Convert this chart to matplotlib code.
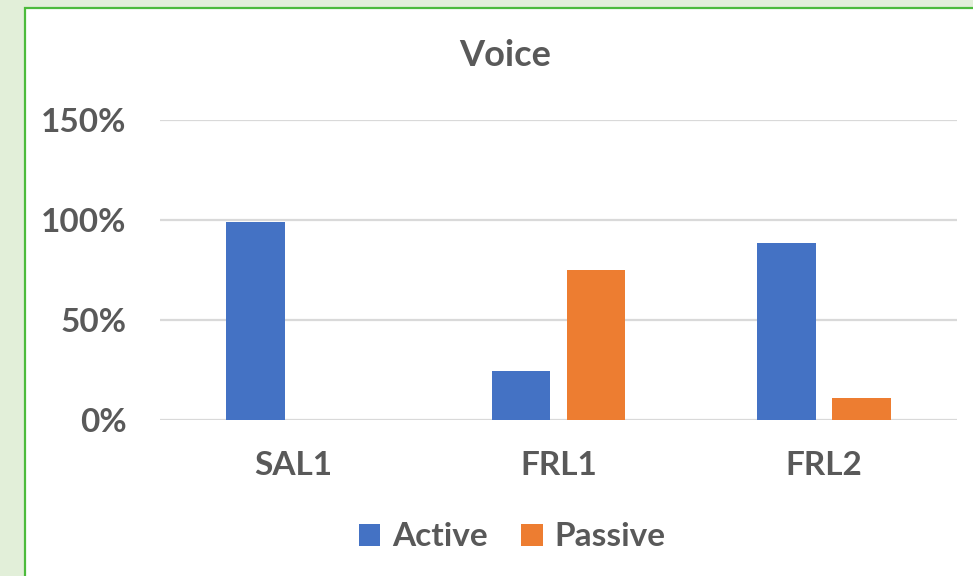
import matplotlib
matplotlib.use("Agg")
import numpy as np
import matplotlib.pyplot as plt
from matplotlib.patches import Rectangle

# chart data
categories = ["SAL1", "FRL1", "FRL2"]
active = [0.99, 0.245, 0.885]
passive = [0.0, 0.75, 0.11]
yticks = [0.0, 0.5, 1.0, 1.5]
ytick_labels = ["0%", "50%", "100%", "150%"]

TEXT = "#595959"
BLUE = "#4472c4"
ORANGE = "#ed7d31"

plt.rcParams["font.family"] = ["Lato", "DejaVu Sans"]
plt.rcParams["font.weight"] = "bold"

W, H = 973, 576
fig = plt.figure(figsize=(W / 100, H / 100), dpi=100, facecolor="#e2efd9")

# white chart card with green border (pixel coords), kept behind the axes
card = Rectangle((25, -5), W, H - 8 + 5, transform=None, zorder=-5,
                 facecolor="white", edgecolor="#4cbb3c", linewidth=1.6)
fig.patches.append(card)

ax = fig.add_axes([160 / W, 156 / H, (957 - 160) / W, 300 / H])
ax.set_facecolor("none")

x = np.arange(len(categories))
bw = 0.22
off = 0.141
b1 = ax.bar(x - off, active, bw, color=BLUE, label="Active", zorder=3)
b2 = ax.bar(x + off, passive, bw, color=ORANGE, label="Passive", zorder=3)

ax.set_xlim(-0.5, len(categories) - 0.5)
ax.set_ylim(0, 1.5)
ax.set_yticks(yticks)
ax.set_yticklabels(ytick_labels)
ax.set_xticks(x)
ax.set_xticklabels(categories)
ax.tick_params(axis="both", length=0, labelsize=24, labelcolor=TEXT)
ax.tick_params(axis="y", pad=24)
ax.tick_params(axis="x", pad=22)
for lab in ax.get_xticklabels() + ax.get_yticklabels():
    lab.set_fontweight("bold")

ax.grid(axis="y", color="#d9d9d9", linewidth=1.6, zorder=0)
for s in ax.spines.values():
    s.set_visible(False)

fig.text(505 / W, 1 - 55 / H, "Voice", ha="center", va="center",
         fontsize=26, fontweight="bold", color=TEXT)

leg = fig.legend(handles=[b1, b2], loc="center", bbox_to_anchor=(512 / W, 1 - 537 / H),
                 ncol=2, frameon=False, fontsize=24, handlelength=0.65, handleheight=0.65,
                 handletextpad=0.35, columnspacing=1.0, borderaxespad=0)
for t in leg.get_texts():
    t.set_color(TEXT)
    t.set_fontweight("bold")

fig.savefig("out.png", dpi=100, facecolor=fig.get_facecolor())
